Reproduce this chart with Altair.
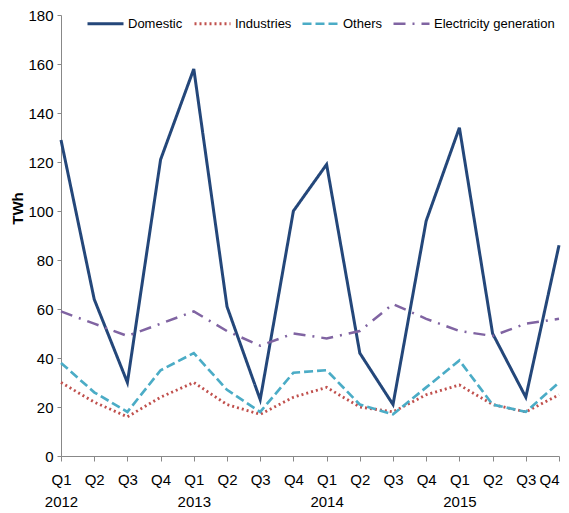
import altair as alt
import pandas as pd

periods = ["Q1|2012", "Q2|2012", "Q3|2012", "Q4|2012",
           "Q1|2013", "Q2|2013", "Q3|2013", "Q4|2013",
           "Q1|2014", "Q2|2014", "Q3|2014", "Q4|2014",
           "Q1|2015", "Q2|2015", "Q3|2015", "Q4|2015"]
domestic = [129, 64, 30, 121, 158, 61, 23, 100, 119, 42, 21, 96, 134, 50, 24, 86]
industries = [30, 22, 16, 24, 30, 21, 17, 24, 28, 20, 18, 25, 29, 21, 18, 25]
others = [38, 26, 18, 35, 42, 27, 18, 34, 35, 21, 17, 28, 39, 21, 18, 30]
electricity = [59, 54, 49, 54, 59, 51, 45, 50, 48, 51, 62, 56, 51, 49, 54, 56]

series_names = ["Domestic", "Industries", "Others", "Electricity generation"]
series_vals = [domestic, industries, others, electricity]
colors = ["#24477A", "#C0504D", "#4BACC6", "#8064A2"]
dashes = [[1, 0], [2, 3], [9, 4], [12, 7, 2, 7]]
widths = [3, 2.5, 3, 3]

FONT = "Liberation Sans"

rows = []
for name, vals in zip(series_names, series_vals):
    for p, v in zip(periods, vals):
        rows.append({"series": name, "period": p, "value": v})
df = pd.DataFrame(rows)

label_expr = ("split(datum.value,'|')[0] == 'Q1' ? split(datum.value,'|') "
              ": split(datum.value,'|')[0]")
last_period = periods[-1]

chart = alt.Chart(df).mark_line(strokeCap="butt").encode(
    x=alt.X("period:O", sort=periods,
            scale=alt.Scale(type="point", padding=0),
            axis=alt.Axis(title=None, labelAngle=0, labelExpr=label_expr,
                          labelFontSize=15, labelFont=FONT,
                          labelColor="#000", labelLineHeight=22,
                          labelPadding=11, tickSize=5, tickColor="#888",
                          domainColor="#888", labelBaseline="top",
                          labelAlign={"condition": {"test": f"datum.value == '{last_period}'",
                                                    "value": "right"},
                                      "value": "center"})),
    y=alt.Y("value:Q",
            scale=alt.Scale(domain=[0, 180], nice=False),
            axis=alt.Axis(title="TWh", values=list(range(0, 181, 20)),
                          grid=False, labelFontSize=15,
                          labelFont=FONT, labelColor="#000",
                          tickSize=4, tickColor="#888", domainColor="#888",
                          labelPadding=4, titleFont=FONT,
                          titleFontSize=15, titleFontWeight="bold",
                          titleColor="#000", titleX=-44, titleY=193,
                          titleAlign="center", titleBaseline="middle",
                          titleAngle=270)),
    color=alt.Color("series:N", sort=series_names,
                    scale=alt.Scale(domain=series_names, range=colors),
                    legend=alt.Legend(title=None, orient="none",
                                      direction="horizontal",
                                      legendX=25, legendY=-11,
                                      symbolType="stroke",
                                      symbolSize=1296,
                                      symbolStrokeWidth=3,
                                      labelFontSize=13,
                                      labelFont=FONT,
                                      labelColor="#000",
                                      labelOffset=3,
                                      columnPadding=5,
                                      padding=0)),
    strokeDash=alt.StrokeDash("series:N", sort=series_names,
                              scale=alt.Scale(domain=series_names, range=dashes),
                              legend=None),
    strokeWidth=alt.StrokeWidth("series:N",
                                scale=alt.Scale(domain=series_names, range=widths),
                                legend=None),
    order=alt.Order("series:N"),
).properties(
    width=498, height=441,
    autosize=alt.AutoSizeParams(type="none"),
    padding={"left": 53, "top": 7, "right": 2, "bottom": 57},
).configure_view(stroke=None)

chart.save("out.html", embed_options={"renderer": "svg", "actions": False})
